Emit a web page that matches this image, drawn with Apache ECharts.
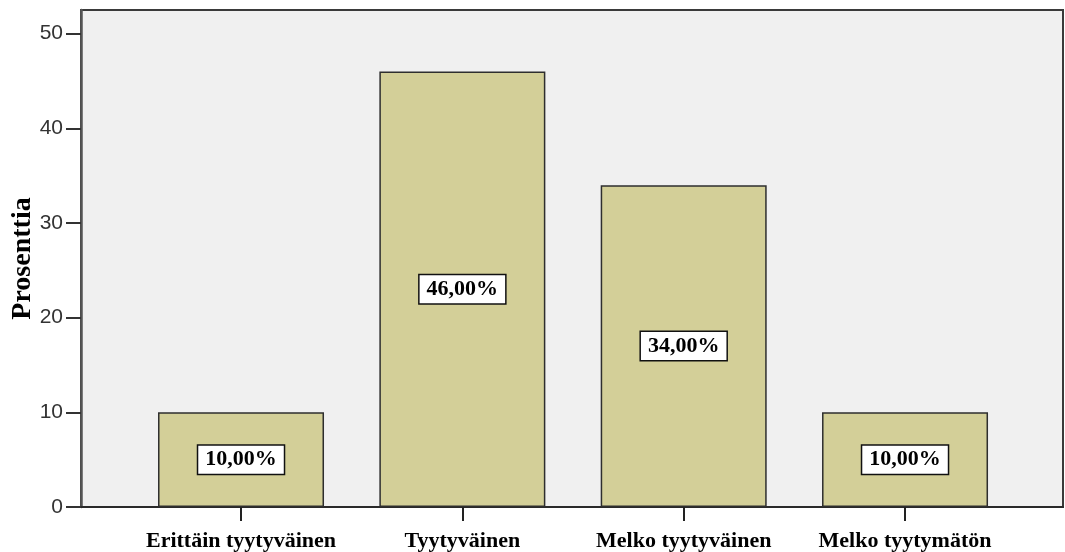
<!DOCTYPE html>
<html>
<head>
<meta charset="utf-8">
<script src="https://cdn.jsdelivr.net/npm/echarts@6/dist/echarts.min.js"></script>
<style>
  html, body { margin: 0; padding: 0; background: #ffffff; }
  #chart { width: 1065px; height: 552px; }
</style>
</head>
<body>
<div id="chart"></div>
<script>
// Satisfaction categories and their share of respondents (%)
const categories = ['Erittäin tyytyväinen', 'Tyytyväinen', 'Melko tyytyväinen', 'Melko tyytymätön'];
const percentages = [10, 46, 34, 10];
const yTicks = [0, 10, 20, 30, 40, 50];

const Y_MAX = 52.5;
const serif = '"Liberation Serif", "Times New Roman", serif';
const sans = '"Liberation Sans", Arial, sans-serif';

const chart = echarts.init(document.getElementById('chart'), null, { renderer: 'canvas' });

chart.setOption({
  animation: false,
  backgroundColor: '#ffffff',
  grid: [
    // framed plot panel with the value axis
    { left: 81, right: 2, top: 10, height: 497, show: true, outerBoundsMode: 'none',
      backgroundColor: '#f0f0f0', borderColor: '#3a3a3a', borderWidth: 2 },
    // inner band that holds the bars
    { left: 130.35, right: 49.3, top: 10, height: 497, outerBoundsMode: 'none' }
  ],
  xAxis: [
    { gridIndex: 0, type: 'category', data: [''],
      axisLine: { show: true, lineStyle: { color: '#2a2a2a', width: 2 } },
      axisTick: { show: false }, axisLabel: { show: false }, splitLine: { show: false } },
    { gridIndex: 1, type: 'category', data: categories,
      axisLine: { show: false },
      axisTick: { show: true, alignWithLabel: true, interval: 0, length: 14,
                  lineStyle: { color: '#222', width: 2 } },
      axisLabel: { interval: 0, color: '#000', fontFamily: serif, fontWeight: 'bold',
                   fontSize: 22, margin: 23 } }
  ],
  yAxis: [
    { gridIndex: 0, type: 'value', min: 0, max: Y_MAX, interval: 10,
      name: 'Prosenttia', nameLocation: 'middle', nameRotate: 90, nameGap: 44,
      nameMoveOverlap: false,
      nameTextStyle: { color: '#000', fontFamily: serif, fontWeight: 'bold', fontSize: 28 },
      axisLine: { show: true, lineStyle: { color: '#555', width: 2.5 } },
      axisTick: { show: true, length: 15, customValues: yTicks,
                  lineStyle: { color: '#333', width: 2 } },
      axisLabel: { color: '#333', fontFamily: sans, fontSize: 21, margin: 18,
                   customValues: yTicks },
      splitLine: { show: false } },
    { gridIndex: 1, type: 'value', min: 0, max: Y_MAX, interval: 10, show: false }
  ],
  series: [{
    type: 'bar',
    xAxisIndex: 1, yAxisIndex: 1,
    data: percentages,
    barWidth: 166,
    itemStyle: { color: '#d3cf98', borderColor: '#2e2e2e', borderWidth: 1.5 },
    label: {
      show: true,
      position: 'inside',
      formatter: p => p.value.toFixed(2).replace('.', ',') + '%',
      color: '#000',
      fontFamily: serif,
      fontWeight: 'bold',
      fontSize: 22,
      lineHeight: 22,
      backgroundColor: '#ffffff',
      borderColor: '#111',
      borderWidth: 1.5,
      padding: [3, 7]
    }
  }]
});
</script>
</body>
</html>
